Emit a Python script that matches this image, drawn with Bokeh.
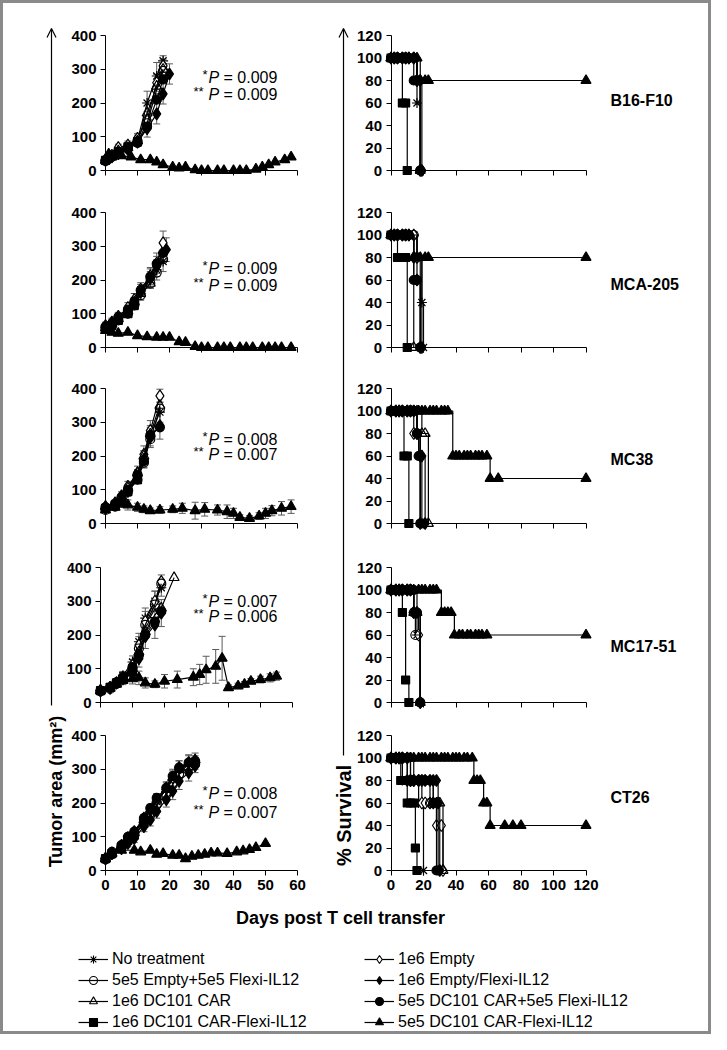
import math
from bokeh.plotting import figure
from bokeh.layouts import column, row
from bokeh.models import (Range1d, LinearAxis, FixedTicker, Whisker, TeeHead, ColumnDataSource,
                          Arrow, OpenHead, Label, Legend, LegendItem)
from bokeh.core.properties import value
from bokeh.embed import file_html
from bokeh.resources import INLINE

FONT = "Liberation Sans"

# ---------------- data ----------------
SERIES_KEYS = ["nt", "e", "ef", "edf", "car", "carf", "sq", "tri"]
SERIES_LABELS = ["No treatment", "1e6 Empty", "5e5 Empty+5e5 Flexi-IL12", "1e6 Empty/Flexi-IL12",
                 "1e6 DC101 CAR", "5e5 DC101 CAR+5e5 Flexi-IL12", "1e6 DC101 CAR-Flexi-IL12",
                 "5e5 DC101 CAR-Flexi-IL12"]
CELL_LINES = ["B16-F10", "MCA-205", "MC38", "MC17-51", "CT26"]
P_STAR = ["0.009", "0.009", "0.008", "0.007", "0.008"]
P_DSTAR = ["0.009", "0.009", "0.007", "0.006", "0.007"]

TUMOR_X_TICKS = [0, 10, 20, 30, 40, 50, 60]
TUMOR_Y_TICKS = [0, 100, 200, 300, 400]
SURV_X_TICKS = [0, 20, 40, 60, 80, 100, 120]
SURV_Y_TICKS = [0, 20, 40, 60, 80, 100, 120]

# tumor area (mm2): (days, mean, error or None)
B16_TUMOR = {
    "nt":   ([0, 2, 4, 7, 10, 13, 16, 18], [30, 42, 60, 70, 90, 200, 280, 325], [5, 8, 10, 12, 15, 35, 40, 15]),
    "e":    ([0, 2, 4, 7, 10, 13, 16, 18], [32, 45, 68, 75, 95, 150, 260, 310], [5, 8, 10, 12, 15, 25, 25, 20]),
    "ef":   ([0, 2, 4, 7, 10, 13, 16, 18], [28, 40, 55, 65, 85, 140, 240, 295], None),
    "edf":  ([0, 2, 4, 7, 10, 13, 16, 18, 20], [30, 40, 50, 62, 84, 124, 168, 227, 286], [5, 6, 8, 10, 12, 25, 30, 30, 30]),
    "car":  ([0, 2, 4, 7, 10, 13, 16, 18], [30, 40, 58, 68, 88, 170, 250, 300], None),
    "carf": ([0, 2, 4, 7, 10, 13, 16, 18], [30, 42, 55, 65, 82, 130, 210, 270], None),
    "sq":   ([0, 2, 4, 7, 10], [30, 45, 55, 70, 85], None),
    "tri":  ([0, 1, 5, 8, 11, 14, 16, 18, 21, 23, 25, 28, 30, 32, 35, 37, 40, 42, 44, 47, 49, 51, 53, 56, 58],
             [30, 49, 44, 40, 32, 32, 25, 17, 10, 7, 10, 2, 0, 0, 0, 0, 0, 0, 0, 4, 10, 17, 25, 32, 40], None),
}
MCA_TUMOR = {
    "nt":   ([0, 2, 4, 7, 9, 11, 14, 16, 18], [60, 70, 85, 110, 130, 160, 200, 230, 255], [10, 12, 12, 15, 18, 20, 25, 30, 30]),
    "e":    ([0, 2, 4, 7, 9, 11, 14, 16, 18], [65, 75, 92, 118, 142, 172, 212, 250, 310], [10, 12, 12, 15, 18, 20, 25, 30, 35]),
    "ef":   ([0, 2, 4, 7, 9, 11, 14, 16, 18], [55, 65, 80, 100, 125, 155, 190, 222, 262], None),
    "edf":  ([0, 2, 4, 7, 9, 11, 14, 16, 19], [60, 72, 88, 105, 130, 165, 205, 240, 290], [8, 10, 12, 15, 18, 22, 28, 30, 35]),
    "car":  ([0, 2, 4, 7, 9, 11, 14], [58, 70, 85, 108, 135, 160, 190], None),
    "carf": ([0, 2, 4, 7, 9, 11, 14, 16, 18], [62, 70, 90, 112, 135, 170, 210, 248, 280], None),
    "sq":   ([0, 2, 4, 7, 9], [55, 65, 80, 100, 125], None),
    "tri":  ([0, 2, 4, 7, 10, 13, 16, 18, 20, 23, 25, 28, 30, 32, 35, 37, 39, 42, 44, 46, 49, 51, 53, 55, 58],
             [50, 45, 42, 45, 35, 32, 30, 30, 30, 17, 15, 3, 0, 0, 0, 0, 0, 0, 0, 0, 0, 0, 0, 0, 0], None),
}
MC38_TUMOR = {
    "nt":   ([0, 3, 5, 7, 10, 12, 14, 17], [45, 55, 75, 100, 140, 190, 260, 330], [8, 10, 12, 15, 20, 25, 30, 30]),
    "e":    ([0, 3, 5, 7, 10, 12, 14, 17], [50, 60, 82, 110, 150, 205, 275, 378], [8, 10, 12, 15, 20, 25, 30, 20]),
    "ef":   ([0, 3, 5, 7, 10, 12, 14, 17], [40, 50, 70, 95, 130, 180, 250, 340], None),
    "edf":  ([0, 3, 5, 7, 10, 12, 14, 17], [45, 55, 70, 95, 138, 190, 255, 290], [8, 10, 12, 15, 20, 25, 30, 40]),
    "car":  ([0, 3, 5, 7, 10, 12, 14, 17], [50, 62, 80, 105, 150, 200, 265, 350], None),
    "carf": ([0, 3, 5, 7, 10, 12, 14, 17], [48, 58, 78, 100, 145, 185, 262, 285], None),
    "sq":   ([0, 3, 5, 7, 10], [45, 55, 70, 95, 130], None),
    "tri":  ([0, 3, 5, 7, 10, 12, 14, 17, 21, 24, 28, 31, 35, 38, 40, 42, 45, 48, 50, 52, 55, 58],
             [40, 48, 58, 55, 48, 42, 38, 40, 42, 45, 38, 42, 40, 35, 30, 18, 15, 22, 30, 38, 45, 50],
             [5, 8, 10, 15, 12, 10, 8, 10, 10, 15, 25, 20, 15, 20, 15, 8, 8, 10, 15, 15, 20, 20]),
}
MC17_TUMOR = {
    "nt":   ([0, 3, 5, 7, 10, 12, 14, 17, 19], [35, 45, 60, 80, 120, 180, 250, 300, 340], [5, 8, 10, 12, 18, 25, 30, 30, 25]),
    "e":    ([0, 3, 5, 7, 10, 12, 14, 17, 19], [35, 42, 58, 75, 110, 170, 240, 300, 358], [5, 8, 10, 12, 18, 25, 30, 30, 20]),
    "ef":   ([0, 3, 5, 7, 10, 12, 14, 17, 19], [33, 40, 55, 72, 100, 160, 230, 290, 352], None),
    "edf":  ([0, 3, 5, 7, 10, 12, 14, 17, 19], [35, 45, 58, 70, 95, 130, 195, 230, 265], [5, 8, 10, 12, 20, 25, 35, 40, 40]),
    "car":  ([0, 3, 5, 7, 10, 12, 14, 17, 19, 23], [35, 42, 55, 70, 100, 150, 210, 260, 280, 370], None),
    "carf": ([0, 3, 5, 7, 10, 12, 14, 17, 19], [35, 45, 60, 75, 105, 140, 200, 240, 270], None),
    "sq":   ([0, 3, 5, 7, 10], [35, 45, 58, 70, 90], None),
    "tri":  ([0, 3, 5, 7, 10, 12, 14, 17, 20, 24, 29, 31, 33, 36, 38, 40, 43, 45, 47, 50, 53, 55],
             [35, 45, 55, 65, 70, 73, 58, 54, 63, 68, 75, 83, 97, 107, 131, 44, 49, 54, 63, 68, 73, 78],
             [5, 8, 10, 12, 15, 20, 15, 10, 20, 25, 25, 30, 40, 50, 65, 8, 8, 8, 8, 10, 12, 12]),
}
CT26_TUMOR = {
    "nt":   ([0, 2, 5, 7, 9, 12, 14, 16, 19, 21, 23, 26, 28], [35, 50, 70, 90, 110, 150, 175, 205, 240, 270, 300, 315, 320],
             [5, 6, 8, 10, 12, 15, 18, 20, 22, 25, 25, 25, 20]),
    "e":    ([0, 2, 5, 7, 9, 12, 14, 16, 19, 21, 23, 26, 28], [35, 52, 72, 95, 115, 155, 180, 210, 245, 275, 305, 320, 325], None),
    "ef":   ([0, 2, 5, 7, 9, 12, 14, 16, 19, 21, 23, 26, 28], [33, 48, 68, 88, 105, 140, 165, 195, 225, 255, 285, 305, 315], None),
    "edf":  ([0, 2, 5, 7, 9, 12, 14, 16, 19, 21, 23, 26, 28], [35, 50, 65, 80, 95, 130, 150, 175, 210, 235, 265, 290, 310],
             [5, 6, 8, 10, 12, 15, 18, 20, 22, 25, 25, 25, 20]),
    "car":  ([0, 2, 5, 7, 9, 12, 14, 16, 19, 21, 23, 26, 28], [35, 52, 75, 98, 112, 150, 178, 208, 240, 275, 300, 318, 328],
             [5, 6, 8, 10, 12, 15, 18, 20, 22, 25, 25, 25, 20]),
    "carf": ([0, 2, 5, 7, 9, 12, 14, 16, 19, 21, 23, 26, 28], [35, 55, 75, 100, 115, 155, 185, 215, 245, 280, 305, 320, 325], None),
    "sq":   ([0, 2, 5, 7, 9, 12], [35, 50, 70, 90, 105, 140], None),
    "tri":  ([0, 2, 5, 9, 11, 14, 16, 18, 21, 23, 25, 27, 29, 31, 33, 35, 38, 41, 43, 45, 47, 50],
             [35, 50, 60, 60, 55, 60, 48, 50, 45, 45, 35, 42, 45, 48, 52, 52, 50, 55, 58, 62, 68, 80], None),
}

# survival (%): (days, percent)
B16_SURV = {
    "nt":   ([0, 2, 4, 7, 9, 11, 14, 16, 18], [100, 100, 100, 100, 100, 100, 100, 60, 0]),
    "e":    ([0, 2, 4, 7, 9, 11, 14, 16, 18], [100, 100, 100, 100, 100, 100, 100, 80, 0]),
    "ef":   ([0, 2, 4, 7, 9, 11, 14, 16, 18], [100, 100, 100, 100, 100, 100, 100, 80, 0]),
    "edf":  ([0, 2, 4, 7, 9, 11, 14, 16, 18, 19], [100, 100, 100, 100, 100, 100, 100, 80, 80, 0]),
    "car":  ([0, 2, 4, 7, 9, 11, 14, 16, 18], [100, 100, 100, 100, 100, 100, 100, 80, 0]),
    "carf": ([0, 2, 4, 7, 9, 11, 14, 16, 18], [100, 100, 100, 100, 100, 100, 80, 80, 0]),
    "sq":   ([0, 2, 4, 7, 9, 10], [100, 100, 100, 60, 60, 0]),
    "tri":  ([0, 2, 4, 7, 9, 11, 14, 16, 18, 21, 23, 120], [100, 100, 100, 100, 100, 100, 100, 100, 80, 80, 80, 80]),
}
MCA_SURV = {
    "nt":   ([0, 2, 4, 7, 9, 11, 14, 16, 19, 20], [100, 100, 100, 100, 100, 100, 100, 80, 40, 0]),
    "e":    ([0, 2, 4, 7, 9, 11, 14, 16, 19], [100, 100, 100, 100, 100, 100, 100, 80, 0]),
    "ef":   ([0, 2, 4, 7, 9, 11, 14, 16, 18], [100, 100, 100, 100, 100, 100, 100, 80, 0]),
    "edf":  ([0, 2, 4, 7, 9, 11, 14, 16, 18], [100, 100, 100, 100, 100, 100, 80, 60, 0]),
    "car":  ([0, 2, 4, 7, 9, 11, 14], [100, 100, 100, 100, 100, 100, 0]),
    "carf": ([0, 2, 4, 7, 9, 11, 14, 16, 18], [100, 100, 100, 100, 100, 100, 60, 60, 0]),
    "sq":   ([0, 2, 4, 7, 9, 10], [100, 100, 80, 80, 80, 0]),
    "tri":  ([0, 2, 4, 7, 9, 11, 14, 16, 18, 21, 23, 120], [100, 100, 100, 100, 100, 100, 80, 80, 80, 80, 80, 80]),
}
MC38_SURV = {
    "nt":   ([0, 3, 5, 7, 10, 12, 14, 16, 18], [100, 100, 100, 100, 100, 100, 100, 80, 0]),
    "e":    ([0, 3, 5, 7, 10, 12, 14, 16, 18], [100, 100, 100, 100, 100, 100, 80, 80, 0]),
    "ef":   ([0, 3, 5, 7, 10, 12, 14, 16, 18, 19], [100, 100, 100, 100, 100, 100, 100, 80, 60, 0]),
    "edf":  ([0, 3, 5, 7, 10, 12, 14, 16, 18, 19, 21], [100, 100, 100, 100, 100, 100, 100, 80, 60, 60, 0]),
    "car":  ([0, 3, 5, 7, 10, 12, 14, 16, 19, 21, 23], [100, 100, 100, 100, 100, 100, 100, 100, 80, 80, 0]),
    "carf": ([0, 3, 5, 7, 10, 12, 14, 16, 17, 18], [100, 100, 100, 100, 100, 100, 100, 80, 60, 0]),
    "sq":   ([0, 3, 5, 8, 10, 11], [100, 100, 100, 60, 60, 0]),
    "tri":  ([0, 3, 5, 7, 10, 12, 14, 17, 19, 21, 24, 26, 28, 31, 33, 35, 38, 40, 42, 45, 47, 49, 52, 54, 56, 59, 61, 66, 120],
             [100, 100, 100, 100, 100, 100, 100, 100, 100, 100, 100, 100, 100, 100, 100, 100,
              60, 60, 60, 60, 60, 60, 60, 60, 60, 60, 40, 40, 40]),
}
MC17_SURV = {
    "nt":   ([0, 3, 5, 7, 10, 12, 14, 16, 18], [100, 100, 100, 100, 100, 100, 80, 60, 0]),
    "e":    ([0, 3, 5, 7, 10, 12, 14, 17, 18], [100, 100, 100, 100, 100, 100, 80, 60, 0]),
    "ef":   ([0, 3, 5, 7, 10, 12, 14, 15, 18], [100, 100, 100, 100, 100, 100, 80, 60, 0]),
    "edf":  ([0, 3, 5, 7, 10, 12, 14, 16, 18], [100, 100, 100, 100, 100, 100, 80, 80, 0]),
    "car":  ([0, 3, 5, 7, 10, 12, 14, 16, 18], [100, 100, 100, 100, 100, 100, 80, 80, 0]),
    "carf": ([0, 3, 5, 7, 10, 12, 14, 16, 18], [100, 100, 100, 100, 100, 100, 100, 80, 0]),
    "sq":   ([0, 2, 5, 7, 9, 11], [100, 100, 100, 80, 20, 0]),
    "tri":  ([0, 3, 5, 7, 10, 12, 14, 17, 19, 21, 24, 26, 28, 31, 33, 35, 37, 39, 42, 44, 47, 49, 52, 54, 56, 59, 120],
             [100, 100, 100, 100, 100, 100, 100, 100, 100, 100, 100, 100, 100, 80, 80, 80, 80,
              60, 60, 60, 60, 60, 60, 60, 60, 60, 60]),
}
CT26_SURV = {
    "nt":   ([0, 3, 5, 7, 10, 12, 14, 17, 19, 20], [100, 100, 100, 80, 80, 80, 80, 60, 60, 0]),
    "e":    ([0, 3, 5, 7, 10, 12, 14, 17, 19, 21, 24, 26, 28, 31, 32], [100, 100, 100, 100, 80, 80, 80, 80, 60, 60, 60, 60, 40, 40, 0]),
    "ef":   ([0, 3, 5, 7, 10, 12, 14, 17, 19, 21, 24, 26, 28, 29], [100, 100, 100, 100, 80, 80, 80, 80, 80, 80, 60, 60, 60, 0]),
    "edf":  ([0, 3, 5, 7, 10, 12, 14, 17, 19, 21, 24, 26, 28, 29, 30], [100, 100, 100, 100, 100, 80, 80, 80, 80, 80, 80, 80, 80, 60, 0]),
    "car":  ([0, 3, 5, 7, 10, 12, 14, 17, 19, 21, 24, 26, 28, 30, 32], [100, 100, 100, 100, 100, 100, 80, 80, 80, 80, 80, 60, 60, 60, 0]),
    "carf": ([0, 3, 5, 7, 10, 12, 14, 17, 19, 21, 24, 26, 28], [100, 100, 100, 100, 100, 80, 80, 80, 80, 80, 80, 60, 0]),
    "sq":   ([0, 3, 6, 8, 10, 12, 14, 15, 16], [100, 100, 80, 80, 60, 60, 60, 20, 0]),
    "tri":  ([0, 3, 5, 7, 10, 12, 14, 17, 19, 21, 24, 26, 28, 31, 33, 35, 38, 40, 42, 45, 47, 50, 51, 53, 55, 57, 59, 61, 70, 75, 80, 120],
             [100, 100, 100, 100, 100, 100, 100, 100, 100, 100, 100, 100, 100, 100, 100, 100, 100, 100, 100, 100, 100, 100,
              80, 80, 80, 60, 60, 40, 40, 40, 40, 40]),
}

TUMOR_DATA = [B16_TUMOR, MCA_TUMOR, MC38_TUMOR, MC17_TUMOR, CT26_TUMOR]
SURV_DATA = [B16_SURV, MCA_SURV, MC38_SURV, MC17_SURV, CT26_SURV]

# ---------------- styling / layout (pixel geometry) ----------------
MARKER = {
    "nt":   ("asterisk", None, 10),
    "e":    ("diamond", "white", 12),
    "ef":   ("circle", None, 9),
    "edf":  ("diamond", "black", 12),
    "car":  ("triangle", None, 10),
    "carf": ("circle", "black", 9),
    "sq":   ("square", "black", 8),
    "tri":  ("triangle", "black", 10),
}
OFF = 3                                   # border width; layout px = picture px - OFF
BAND = [3, 185, 362, 539, 712, 902]       # row band edges (picture px)
ZERO_Y = [170, 347, 523, 702, 870]        # y pixel of value 0 in each row
X0_LEFT = [105, 105, 105, 100, 105]       # x pixel of day 0 (tumor panels)
X0_RIGHT = 390.5                          # x pixel of day 0 (survival panels)
PX_DAY_L, PX_UNIT_L = 3.2, 0.3375
PX_DAY_R, PX_UNIT_R = 1.625, 1.125
STRIP_L_W, LEFT_W, STRIP_R_W, RIGHT_W = 64, 244, 44, 353
LEFT_X = OFF + STRIP_L_W                  # 67
RIGHT_X = LEFT_X + LEFT_W + STRIP_R_W     # 355
TOP_H = BAND[-1] - BAND[0]
BOTTOM_H = 129
P_Y = [(275, 225), (235, 185), (248, 203), (300, 255), (227, 173)]
LABEL_Y = [62, 56, 57, 50, 65]
LEGEND_ROW1_Y = 959
LEGEND_PITCH = 21


def style_axis(ax, ticks, show_labels):
    ax.ticker = FixedTicker(ticks=ticks, minor_ticks=[])
    ax.axis_line_color = "black"
    ax.axis_line_width = 1
    ax.major_tick_line_color = "black"
    ax.major_tick_out = 5
    ax.major_tick_in = 0
    ax.minor_tick_out = 0
    ax.minor_tick_in = 0
    ax.major_label_standoff = 4
    ax.major_label_text_font = FONT
    ax.major_label_text_font_style = "bold"
    ax.major_label_text_font_size = "15px"
    ax.major_label_text_color = "black" if show_labels else None


def base_fig(width, height, xr, yr):
    p = figure(width=width, height=height, x_range=Range1d(*xr), y_range=Range1d(*yr),
               min_border=0, x_axis_type=None, y_axis_type=None, toolbar_location=None,
               output_backend="svg")
    p.outline_line_color = None
    p.background_fill_color = "white"
    p.border_fill_color = "white"
    return p


def draw_series(p, d, v, key, step=False):
    mk, fill, size = MARKER[key]
    if step:
        p.step(d, v, mode="after", line_color="black", line_width=1.2)
    else:
        p.line(d, v, line_color="black", line_width=1.2)
    p.scatter(d, v, marker=mk, size=size, line_color="black", fill_color=fill, line_width=1.2)


def draw_err(p, d, v, e):
    src = ColumnDataSource(dict(x=d, lo=[a - b for a, b in zip(v, e)], hi=[a + b for a, b in zip(v, e)]))
    p.add_layout(Whisker(source=src, base="x", lower="lo", upper="hi", line_color="#5a5a5a", line_width=1,
                         upper_head=TeeHead(size=7, line_color="#5a5a5a", line_width=1),
                         lower_head=TeeHead(size=7, line_color="#5a5a5a", line_width=1)))


def txt(p, x, y, s, size="16px", style="normal", align="left", xo=0, yo=0):
    p.text(x=[x], y=[y], text=[s], text_font=value(FONT), text_font_size=value(size),
           text_font_style=style, text_align=align, text_baseline="middle",
           x_offset=xo, y_offset=yo, text_color="black")


left_figs, right_figs = [], []
for i in range(5):
    h = BAND[i + 1] - BAND[i]
    below = BAND[i + 1] - ZERO_Y[i]
    last = (i == 4)

    # tumor panel
    xs = -(X0_LEFT[i] - LEFT_X) / PX_DAY_L
    ys = -below / PX_UNIT_L
    p = base_fig(LEFT_W, h, (xs, xs + LEFT_W / PX_DAY_L), (ys, ys + h / PX_UNIT_L))
    xa = LinearAxis(fixed_location=0, bounds=(0, 60))
    style_axis(xa, TUMOR_X_TICKS, last)
    ya = LinearAxis(fixed_location=0, bounds=(0, 400))
    style_axis(ya, TUMOR_Y_TICKS, True)
    p.add_layout(xa, "below")
    p.add_layout(ya, "left")
    data = TUMOR_DATA[i]
    for key in SERIES_KEYS:
        d, v, e = data[key]
        if e is not None:
            draw_err(p, d, v, e)
    for key in SERIES_KEYS:
        d, v, e = data[key]
        draw_series(p, d, v, key)
    y1, y2 = P_Y[i]
    xp = (208 - X0_LEFT[i]) / PX_DAY_L
    txt(p, xp, y1, "*", size="13px", align="right", xo=-1, yo=-3)
    txt(p, xp, y1, "P", style="italic")
    txt(p, xp, y1, "= " + P_STAR[i], xo=15)
    txt(p, xp, y2, "**", size="13px", align="right", xo=-5, yo=-3)
    txt(p, xp, y2, "P", style="italic")
    txt(p, xp, y2, "= " + P_DSTAR[i], xo=15)
    left_figs.append(p)

    # survival panel
    xs = -(X0_RIGHT - RIGHT_X) / PX_DAY_R
    ys = -below / PX_UNIT_R
    q = base_fig(RIGHT_W, h, (xs, xs + RIGHT_W / PX_DAY_R), (ys, ys + h / PX_UNIT_R))
    xa = LinearAxis(fixed_location=0, bounds=(0, 120))
    style_axis(xa, SURV_X_TICKS, last)
    ya = LinearAxis(fixed_location=0, bounds=(0, 120))
    style_axis(ya, SURV_Y_TICKS, True)
    q.add_layout(xa, "below")
    q.add_layout(ya, "left")
    sdata = SURV_DATA[i]
    for key in SERIES_KEYS:
        d, s = sdata[key]
        draw_series(q, d, s, key, step=True)
    txt(q, (610 - X0_RIGHT) / PX_DAY_R, LABEL_Y[i], CELL_LINES[i], style="bold")
    right_figs.append(q)


def strip(width, x, y_bottom_px, label, lx, ly_px, fsize):
    s = figure(width=width, height=TOP_H, x_range=Range1d(0, width), y_range=Range1d(0, TOP_H),
               min_border=0, x_axis_type=None, y_axis_type=None, toolbar_location=None,
               output_backend="svg")
    s.outline_line_color = None
    s.add_layout(Arrow(end=OpenHead(size=9, line_width=1.2, line_color="black"),
                       x_start=x, y_start=BAND[-1] - y_bottom_px, x_end=x, y_end=BAND[-1] - 28,
                       line_width=1.2, line_color="black"))
    s.add_layout(Label(x=lx, y=BAND[-1] - ly_px, text=label, angle=math.pi / 2, text_align="center",
                       text_baseline="middle", text_font=FONT, text_font_style="bold",
                       text_font_size=fsize, text_color="black"))
    return s


stripL = strip(STRIP_L_W, 51 - OFF, 705, "Tumor area (mm²)", 55 - OFF, 791, "18px")
stripR = strip(STRIP_R_W, 343 - (LEFT_X + LEFT_W), 755, "% Survival", 343 - (LEFT_X + LEFT_W), 815, "20px")

top = row(stripL, column(*left_figs), stripR, column(*right_figs))

# bottom: x label and legend
bf = figure(width=STRIP_L_W + LEFT_W + STRIP_R_W + RIGHT_W, height=BOTTOM_H,
            x_range=Range1d(0, 705), y_range=Range1d(0, BOTTOM_H), min_border=0,
            x_axis_type=None, y_axis_type=None, toolbar_location=None, output_backend="svg")
bf.outline_line_color = None
bf.add_layout(Label(x=340 - OFF, y=BOTTOM_H - (917 - BAND[-1]), text="Days post T cell transfer",
                    text_align="center", text_baseline="middle", text_font=FONT,
                    text_font_style="bold", text_font_size="18px", text_color="black"))
items = []
for key, lab in zip(SERIES_KEYS, SERIES_LABELS):
    mk, fill, size = MARKER[key]
    r1 = bf.line(x=[math.nan], y=[math.nan], line_color="black", line_width=1.2)
    r2 = bf.scatter(x=[math.nan], y=[math.nan], marker=mk, size=size - 2, line_color="black",
                    fill_color=fill, line_width=1.1)
    items.append(LegendItem(label=lab, renderers=[r1, r2]))


def make_legend(its, x_px):
    bottom_px = LEGEND_ROW1_Y - 10 + 4 * 20 + 3 * (LEGEND_PITCH - 20)
    return Legend(items=its, location=(x_px - OFF, BOTTOM_H - (bottom_px - BAND[-1])), orientation="vertical",
                  border_line_color=None, background_fill_alpha=0, padding=0,
                  spacing=LEGEND_PITCH - 20, margin=0,
                  glyph_width=30, glyph_height=20, label_height=20, label_standoff=4,
                  label_text_font=FONT, label_text_font_size="16px", label_text_color="black")


bf.add_layout(make_legend([items[0], items[2], items[4], items[6]], 78))
bf.add_layout(make_legend([items[1], items[3], items[5], items[7]], 364))

layout = column(top, bf, styles={"border": "3px solid #8a8a8a"})

open("out.html", "w").write(file_html(layout, INLINE))
